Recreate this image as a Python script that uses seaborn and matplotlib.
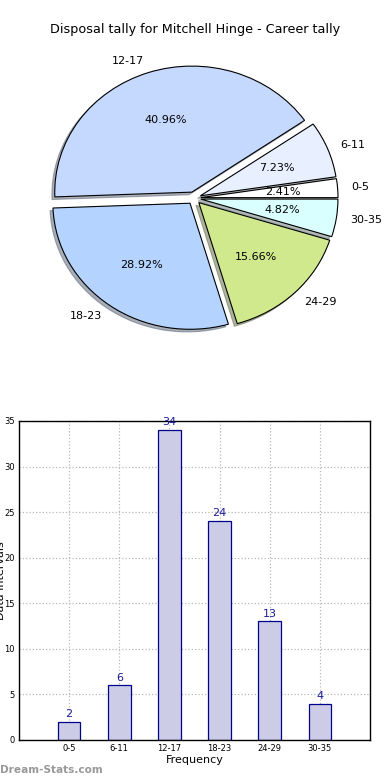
import matplotlib
matplotlib.use('Agg')
import matplotlib.pyplot as plt
import seaborn as sns
import pandas as pd

# data
bins = ['0-5', '6-11', '12-17', '18-23', '24-29', '30-35']
counts = [2, 6, 34, 24, 13, 4]
pie_colors = ['#ffffff', '#e8f0ff', '#c5d9ff', '#b4d4ff', '#d0e98c', '#d9ffff']
yticks = [0, 5, 10, 15, 20, 25, 30, 35]

sns.set_style('white', {'text.color': 'black', 'axes.labelcolor': 'black',
                        'xtick.color': 'black', 'ytick.color': 'black'})
plt.rcParams['font.family'] = ['DejaVu Sans']

fig = plt.figure(figsize=(3.9, 7.8), dpi=100)

# pie chart (top)
ax_pie = fig.add_axes([0.058, 0.544, 0.879, 0.404])
wedges, texts, autotexts = ax_pie.pie(
    counts, labels=bins, colors=pie_colors, explode=[0.05] * len(counts),
    autopct='%1.2f%%', startangle=0, counterclock=True,
    shadow={'ox': -0.015, 'oy': -0.015, 'shade': 0.55},
    wedgeprops={'edgecolor': 'black', 'linewidth': 0.8},
    textprops={'fontsize': 8, 'color': 'black'}, frame=False)
ax_pie.set_xlim(-1.25, 1.25)
ax_pie.set_ylim(-1.25, 1.25)
ax_pie.set_aspect('auto')
ax_pie.axis('off')
fig.text(0.5, 0.962, 'Disposal tally for Mitchell Hinge - Career tally',
         ha='center', va='center', fontsize=9.2, color='black')

# bar chart (bottom)
df = pd.DataFrame({'bin': bins, 'count': counts})
ax = fig.add_axes([0.0487, 0.0513, 0.9, 0.409])
sns.barplot(data=df, x='bin', y='count', ax=ax, width=0.45,
            color='#cccce6', edgecolor='#00008b', linewidth=0.9,
            saturation=1)
ax.set_xlim(-1, 6)
ax.set_ylim(0, 35)
ax.set_yticks(yticks)
ax.tick_params(labelsize=6, length=3, direction='in', pad=3)
ax.grid(True, linestyle=':', color='#b8b8b8', linewidth=0.9)
for p in ax.patches:
    p.set_zorder(1)
for gl in ax.get_xgridlines() + ax.get_ygridlines():
    gl.set_zorder(2)
for s in ax.spines.values():
    s.set_color('black')
    s.set_linewidth(1.0)
for i, c in enumerate(counts):
    ax.text(i, c + 0.3, str(c), ha='center', va='bottom',
            color='#1c1c9c', fontsize=8)
ax.set_xlabel('Frequency', fontsize=8, labelpad=1)
ax.set_ylabel('')
fig.text(0.002, 0.255, 'Data Intervals', rotation=90, ha='center',
         va='center', fontsize=8)

fig.text(0.0, 0.013, 'Dream-Stats.com', ha='left', va='center',
         color='#999999', fontsize=7.6, fontweight='bold')

fig.savefig('out.png', dpi=100)
